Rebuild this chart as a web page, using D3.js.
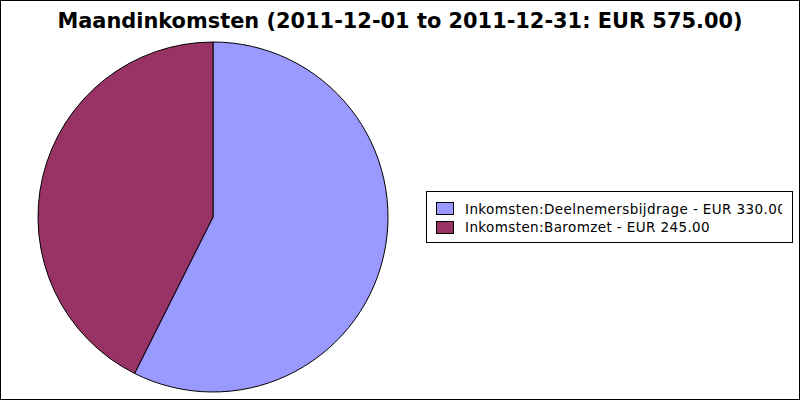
<!DOCTYPE html>
<html><head><meta charset="utf-8">
<script src="https://cdn.jsdelivr.net/npm/d3@7"></script>
<style>html,body{margin:0;padding:0;background:#fff}svg{display:block}</style>
</head><body>
<svg id="c" width="800" height="400"></svg>
<script>
const title = "Maandinkomsten (2011-12-01 to 2011-12-31: EUR 575.00)";
const categories = ["Inkomsten:Deelnemersbijdrage", "Inkomsten:Baromzet"];
const values = [330.00, 245.00];
const colors = ["#9999ff", "#993366"];
const currency = "EUR";

const svg = d3.select("#c");
svg.append("rect").attr("x",0.5).attr("y",0.5).attr("width",799).attr("height",399)
  .attr("fill","#fff").attr("stroke","#000");
svg.append("text").attr("x",400).attr("y",28).attr("text-anchor","middle")
  .attr("font-family","DejaVu Sans").attr("font-weight","bold").attr("font-size",20.9)
  .text(title);

const cx = 213, cy = 217, r = 175;
const pie = d3.pie().sort(null).value(d=>d)(values);
const arc = d3.arc().innerRadius(0).outerRadius(r);
const g = svg.append("g").attr("transform",`translate(${cx},${cy})`);
g.selectAll("path").data(pie).join("path")
  .attr("d",arc).attr("fill",(d,i)=>colors[i]).attr("stroke","#000").attr("stroke-width",1);

// legend
const lx = 426, ly = 191, lw = 366, lh = 51;
svg.append("rect").attr("x",lx+0.5).attr("y",ly+0.5).attr("width",lw).attr("height",lh)
  .attr("fill","#fff").attr("stroke","#000");
svg.append("clipPath").attr("id","lc").append("rect").attr("x",lx).attr("y",ly).attr("width",356).attr("height",lh);
const lg = svg.append("g").attr("clip-path","url(#lc)");
const y = d3.scaleBand().domain(categories).range([ly+8, ly+8+37]).padding(0);
categories.forEach((c,i)=>{
  const yy = y(c);
  lg.append("rect").attr("x",436.5).attr("y",Math.round(yy+3)+0.5).attr("width",17).attr("height",12)
    .attr("fill",colors[i]).attr("stroke","#000");
  lg.append("text").attr("x",465).attr("y",yy+14.5)
    .attr("font-family","DejaVu Sans").attr("font-size",13.5).attr("letter-spacing",0.4)
    .text(`${c} - ${currency} ${values[i].toFixed(2)}`);
});
</script>
</body></html>
